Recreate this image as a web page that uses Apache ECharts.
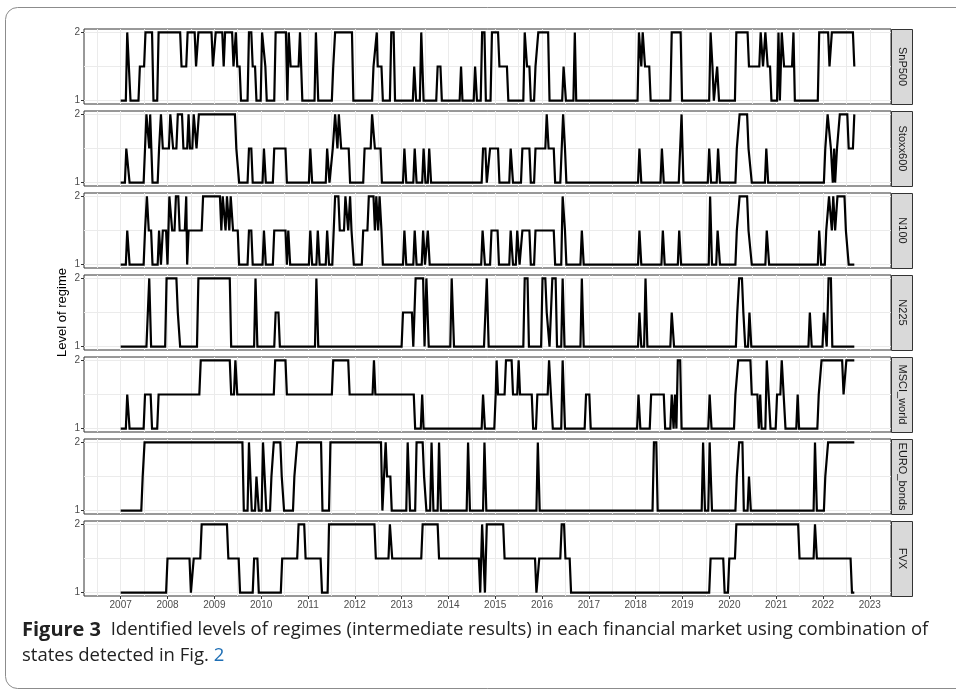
<!DOCTYPE html>
<html>
<head>
<meta charset="utf-8">
<script src="https://cdn.jsdelivr.net/npm/echarts@6/dist/echarts.min.js"></script>
<style>
  html, body { margin: 0; padding: 0; background: #ffffff; }
  #chart { width: 956px; height: 699px; }
</style>
</head>
<body>
<div id="chart"></div>
<script>
// Regime level of each market over time, as change points [year, level].
// The level holds from one change point until the next; the last entry closes the series.
const panelNames = ['SnP500', 'Stoxx600', 'N100', 'N225', 'MSCI_world', 'EURO_bonds', 'FVX'];
const yearTicks = [2007, 2008, 2009, 2010, 2011, 2012, 2013, 2014, 2015, 2016, 2017, 2018, 2019, 2020, 2021, 2022, 2023];
const levelTicks = [1, 2];

const snp500 = [
  [2007.00, 1], [2007.14, 2], [2007.21, 1], [2007.41, 1.5], [2007.53, 2], [2007.70, 1], [2007.81, 2],
  [2008.30, 1.5], [2008.43, 2], [2008.61, 1.5], [2008.66, 2], [2008.97, 1.5], [2009.03, 2], [2009.20, 1.5],
  [2009.23, 2], [2009.41, 1.5], [2009.46, 2], [2009.49, 1.5], [2009.57, 1], [2009.74, 2], [2009.82, 1.5],
  [2009.90, 1], [2010.02, 2], [2010.09, 1.5], [2010.12, 1], [2010.31, 2], [2010.56, 1], [2010.59, 2],
  [2010.63, 1.5], [2010.83, 2], [2010.88, 1], [2011.17, 2], [2011.22, 1], [2011.54, 1.5], [2011.58, 2],
  [2011.97, 1], [2012.40, 1.5], [2012.47, 2], [2012.49, 1.5], [2012.60, 1], [2012.78, 2], [2012.86, 1],
  [2013.27, 1.5], [2013.31, 1], [2013.42, 2], [2013.47, 1], [2013.77, 1.5], [2013.86, 1], [2014.27, 1.5],
  [2014.30, 1], [2014.57, 1.5], [2014.61, 1], [2014.72, 2], [2014.80, 1], [2014.93, 2], [2015.09, 1.5],
  [2015.28, 1], [2015.63, 2], [2015.68, 1.5], [2015.76, 1], [2015.86, 1.5], [2015.92, 2], [2016.16, 1],
  [2016.46, 1.5], [2016.51, 1], [2016.70, 2], [2016.73, 1], [2018.07, 2], [2018.12, 1.5], [2018.15, 2],
  [2018.20, 1.5], [2018.32, 1], [2018.77, 2], [2018.99, 1], [2019.60, 2], [2019.64, 1.5], [2019.67, 1],
  [2019.74, 1.5], [2019.78, 1], [2020.15, 2], [2020.42, 1.5], [2020.67, 2], [2020.72, 1.5], [2020.77, 2],
  [2020.82, 1.5], [2020.90, 1], [2021.05, 2], [2021.08, 1], [2021.12, 2], [2021.17, 1.5], [2021.37, 2],
  [2021.40, 1], [2021.92, 2], [2022.14, 1.5], [2022.19, 2], [2022.67, 1.5]
];

const stoxx600 = [
  [2007.00, 1], [2007.12, 1.5], [2007.19, 1], [2007.52, 1.5], [2007.55, 2], [2007.61, 1.5], [2007.63, 2],
  [2007.68, 1], [2007.82, 1.5], [2007.86, 2], [2007.90, 1.5], [2008.06, 2], [2008.12, 1.5], [2008.22, 2],
  [2008.34, 1.5], [2008.45, 2], [2008.48, 1.5], [2008.56, 2], [2008.62, 1.5], [2008.67, 2], [2009.47, 1.5],
  [2009.53, 1], [2009.74, 1.5], [2009.82, 1], [2010.06, 1.5], [2010.10, 1], [2010.28, 1.5], [2010.55, 1],
  [2011.05, 1.5], [2011.09, 1], [2011.41, 1.5], [2011.46, 1], [2011.53, 1.5], [2011.58, 2], [2011.63, 1.5],
  [2011.66, 2], [2011.71, 1.5], [2011.90, 1], [2012.21, 1.5], [2012.37, 2], [2012.43, 1.5], [2012.58, 1],
  [2013.06, 1.5], [2013.10, 1], [2013.28, 1.5], [2013.32, 1], [2013.47, 1.5], [2013.51, 1], [2013.59, 1.5],
  [2013.63, 1], [2014.74, 1.5], [2014.82, 1], [2014.89, 1.5], [2015.09, 1], [2015.33, 1.5], [2015.38, 1],
  [2015.58, 1.5], [2015.76, 1], [2015.86, 1.5], [2016.10, 2], [2016.14, 1.5], [2016.28, 1], [2016.42, 1.5],
  [2016.45, 2], [2016.49, 1.5], [2016.52, 1], [2018.08, 1.5], [2018.12, 1], [2018.56, 1.5], [2018.60, 1],
  [2018.95, 1.5], [2018.98, 2], [2019.02, 1], [2019.57, 1.5], [2019.61, 1], [2019.76, 1.5], [2019.80, 1],
  [2020.16, 1.5], [2020.22, 2], [2020.41, 1.5], [2020.48, 1], [2020.79, 1.5], [2020.83, 1], [2022.05, 1.5],
  [2022.10, 2], [2022.17, 1.5], [2022.21, 1], [2022.24, 1.5], [2022.26, 1], [2022.30, 1.5], [2022.36, 2],
  [2022.55, 1.5], [2022.67, 2]
];

const n100 = [
  [2007.00, 1], [2007.14, 1.5], [2007.19, 1], [2007.52, 1.5], [2007.56, 2], [2007.60, 1.5], [2007.68, 1],
  [2007.82, 1.5], [2007.86, 1], [2007.90, 1.5], [2008.00, 1], [2008.04, 2], [2008.10, 1.5], [2008.18, 2],
  [2008.26, 1.5], [2008.40, 2], [2008.42, 1], [2008.45, 1.5], [2008.76, 2], [2009.15, 1.5], [2009.18, 2],
  [2009.24, 1.5], [2009.27, 2], [2009.32, 1.5], [2009.35, 2], [2009.40, 1.5], [2009.53, 1], [2009.74, 1.5],
  [2009.82, 1], [2010.06, 1.5], [2010.10, 1], [2010.28, 1.5], [2010.55, 1], [2010.58, 1.5], [2010.62, 1],
  [2011.05, 1.5], [2011.09, 1], [2011.21, 1.5], [2011.25, 1], [2011.41, 1.5], [2011.45, 1], [2011.55, 1.5],
  [2011.58, 2], [2011.68, 1.5], [2011.80, 2], [2011.86, 1.5], [2011.90, 2], [2011.93, 1.5], [2011.98, 1],
  [2012.18, 1.5], [2012.30, 2], [2012.43, 1.5], [2012.46, 2], [2012.50, 1.5], [2012.53, 2], [2012.57, 1.5],
  [2012.60, 1], [2013.06, 1.5], [2013.10, 1], [2013.28, 1.5], [2013.32, 1], [2013.46, 1.5], [2013.50, 1],
  [2013.56, 1.5], [2013.60, 1], [2014.73, 1.5], [2014.78, 1], [2014.92, 1.5], [2015.08, 1], [2015.33, 1.5],
  [2015.38, 1], [2015.47, 1.5], [2015.52, 1], [2015.58, 1.5], [2015.76, 1], [2015.86, 1.5], [2016.28, 1],
  [2016.44, 2], [2016.49, 1.5], [2016.52, 1], [2016.85, 1.5], [2016.89, 1], [2018.08, 1.5], [2018.12, 1],
  [2018.58, 1.5], [2018.62, 1], [2018.93, 1.5], [2018.97, 1], [2019.59, 2], [2019.63, 1], [2019.75, 1.5],
  [2019.80, 1], [2020.16, 1.5], [2020.22, 2], [2020.41, 1.5], [2020.48, 1], [2020.80, 1.5], [2020.85, 1],
  [2021.92, 1.5], [2021.96, 1], [2022.07, 1.5], [2022.13, 2], [2022.19, 1.5], [2022.22, 2], [2022.26, 1.5],
  [2022.31, 2], [2022.49, 1.5], [2022.55, 1], [2022.67, 1]
];

const n225 = [
  [2007.00, 1], [2007.58, 1.5], [2007.61, 2], [2007.65, 1], [2007.98, 2], [2008.22, 1.5], [2008.27, 1],
  [2008.66, 2], [2009.36, 1], [2009.88, 2], [2009.92, 1], [2010.31, 1.5], [2010.40, 1], [2011.18, 2],
  [2011.22, 1], [2013.03, 1.5], [2013.25, 1], [2013.30, 2], [2013.49, 1], [2013.53, 2], [2013.58, 1],
  [2014.07, 2], [2014.12, 1], [2014.79, 1.5], [2014.82, 2], [2014.86, 1], [2015.63, 2], [2015.72, 1],
  [2016.01, 2], [2016.10, 1.5], [2016.16, 1], [2016.22, 2], [2016.32, 1], [2016.44, 2], [2016.48, 1],
  [2016.85, 2], [2016.89, 1], [2018.08, 1.5], [2018.12, 1], [2018.21, 2], [2018.25, 1], [2018.77, 1.5],
  [2018.82, 1], [2020.17, 1.5], [2020.21, 2], [2020.30, 1.5], [2020.34, 1], [2020.43, 1.5], [2020.47, 1],
  [2021.72, 1.5], [2021.76, 1], [2022.02, 1.5], [2022.08, 1], [2022.12, 2], [2022.20, 1], [2022.67, 1]
];

const msciWorld = [
  [2007.00, 1], [2007.14, 1.5], [2007.19, 1], [2007.52, 1.5], [2007.67, 1], [2007.81, 1.5], [2008.71, 2],
  [2009.36, 1.5], [2009.45, 2], [2009.49, 1.5], [2010.30, 2], [2010.55, 1.5], [2011.54, 2], [2011.89, 1.5],
  [2012.41, 2], [2012.44, 1.5], [2013.29, 1], [2013.44, 1.5], [2013.47, 1], [2014.74, 1.5], [2014.78, 1],
  [2015.01, 1.5], [2015.03, 2], [2015.06, 1.5], [2015.23, 2], [2015.38, 1.5], [2015.50, 2], [2015.53, 1.5],
  [2015.81, 1], [2015.90, 1.5], [2016.15, 2], [2016.19, 1.5], [2016.23, 1], [2016.44, 2], [2016.49, 1],
  [2016.94, 1.5], [2017.04, 1], [2018.06, 1.5], [2018.10, 1], [2018.33, 1.5], [2018.63, 1], [2018.77, 1.5],
  [2018.81, 1], [2018.84, 1.5], [2018.87, 1], [2018.90, 2], [2018.98, 1], [2019.58, 1.5], [2019.62, 1],
  [2020.13, 1.5], [2020.19, 2], [2020.48, 1.5], [2020.63, 1], [2020.66, 1.5], [2020.69, 1], [2020.80, 2],
  [2020.84, 1.5], [2020.88, 1], [2021.02, 1.5], [2021.12, 2], [2021.16, 1.5], [2021.20, 1], [2021.46, 1.5],
  [2021.49, 1], [2021.91, 1.5], [2021.97, 2], [2022.44, 1.5], [2022.50, 2], [2022.67, 2]
];

const euroBonds = [
  [2007.00, 1], [2007.47, 1.5], [2007.51, 2], [2009.63, 1], [2009.74, 2], [2009.80, 1], [2009.90, 1.5],
  [2009.95, 1], [2010.04, 2], [2010.11, 1], [2010.22, 1.5], [2010.27, 2], [2010.44, 1.5], [2010.49, 1],
  [2010.71, 1.5], [2010.77, 2], [2011.31, 1], [2011.48, 2], [2012.59, 1], [2012.66, 2], [2012.69, 1.5],
  [2012.79, 1], [2013.13, 2], [2013.18, 1], [2013.32, 2], [2013.48, 1.5], [2013.53, 1], [2013.64, 2],
  [2013.68, 1], [2013.80, 2], [2013.84, 1], [2014.42, 2], [2014.46, 1], [2014.77, 2], [2014.81, 1],
  [2015.91, 2], [2015.95, 1], [2018.39, 2], [2018.47, 1], [2019.44, 2], [2019.48, 1], [2019.58, 2],
  [2019.63, 1], [2020.16, 1.5], [2020.21, 2], [2020.31, 1], [2020.42, 1.5], [2020.46, 1], [2021.83, 2],
  [2021.87, 1], [2022.05, 1.5], [2022.11, 2], [2022.67, 2]
];

const fvx = [
  [2007.00, 1], [2008.00, 1.5], [2008.50, 1], [2008.56, 1.5], [2008.73, 2], [2009.30, 1.5], [2009.55, 1],
  [2009.85, 1.5], [2009.95, 1], [2010.45, 1.5], [2010.80, 2], [2010.95, 1.5], [2011.30, 1], [2011.45, 2],
  [2012.45, 1.5], [2012.75, 2], [2012.80, 1.5], [2013.45, 2], [2013.80, 1.5], [2014.68, 1], [2014.72, 2],
  [2014.78, 1], [2014.82, 2], [2015.20, 1.5], [2015.88, 1], [2015.94, 1.5], [2016.42, 2], [2016.50, 1.5],
  [2016.62, 1], [2019.60, 1.5], [2019.90, 1], [2020.00, 1.5], [2020.15, 2], [2021.50, 1.5], [2021.83, 2],
  [2021.87, 1.5], [2022.62, 1], [2022.67, 1]
];

const panelSeries = [snp500, stoxx600, n100, n225, msciWorld, euroBonds, fvx];

// Each level holds until just before the next change, then the line ramps to the new level.
const RAMP = 0.03;
function toLinePoints(changes) {
  const pts = [];
  for (let i = 0; i < changes.length - 1; i++) {
    const t = changes[i][0], v = changes[i][1];
    const next = changes[i + 1][0];
    pts.push([t, v]);
    if (next - RAMP > t) pts.push([next - RAMP, v]);
  }
  pts.push(changes[changes.length - 1]);
  return pts;
}

// Layout of the stacked facets
const PANEL_LEFT = 84, PANEL_RIGHT = 891, PANEL_TOP = 29, PANEL_H = 75, PANEL_GAP = 7;
const STRIP_W = 21;
const FONT = '"Liberation Sans", Arial, sans-serif';

// x range padded 5% on both sides of the data span
const xStart = Math.min(...panelSeries.map(s => s[0][0]));
const xEnd = Math.max(...panelSeries.map(s => s[s.length - 1][0]));
const xPad = (xEnd - xStart) * 0.05;
const xMin = xStart - xPad, xMax = xEnd + xPad;

const xGridValues = [];
for (let y = Math.floor(xMin * 2) / 2; y <= xMax; y += 0.5) if (y > xMin) xGridValues.push(y);

const grids = [], xAxes = [], yAxes = [], series = [], graphics = [];
panelNames.forEach((name, i) => {
  const top = PANEL_TOP + i * (PANEL_H + PANEL_GAP);
  const last = i === panelNames.length - 1;
  grids.push({
    left: PANEL_LEFT, top: top, width: PANEL_RIGHT - PANEL_LEFT, height: PANEL_H,
    show: true, borderColor: '#333333', borderWidth: 1, backgroundColor: '#ffffff'
  });
  // labelled axis
  xAxes.push({
    gridIndex: i, type: 'value', min: xMin, max: xMax, position: 'bottom',
    axisLine: { show: false },
    axisTick: { show: last, length: 3, lineStyle: { color: '#333333', width: 1 }, customValues: yearTicks },
    axisLabel: {
      show: last, customValues: yearTicks, color: '#4d4d4d', fontSize: 10, fontFamily: FONT, margin: 4,
      formatter: v => String(Math.round(v))
    },
    splitLine: { show: false }
  });
  // grid lines every half year
  xAxes.push({
    gridIndex: i, type: 'value', min: xMin, max: xMax, position: 'top',
    axisLine: { show: false }, axisLabel: { show: false },
    axisTick: { show: false, customValues: xGridValues },
    splitLine: { show: true, lineStyle: { color: '#ebebeb', width: 1 } }
  });
  yAxes.push({
    gridIndex: i, type: 'value', min: 0.95, max: 2.05, position: 'left',
    axisLine: { show: false },
    axisTick: { show: true, length: 3, lineStyle: { color: '#333333', width: 1 }, customValues: levelTicks },
    axisLabel: { customValues: levelTicks, color: '#4d4d4d', fontSize: 10, fontFamily: FONT, margin: 4 },
    splitLine: { show: false }
  });
  yAxes.push({
    gridIndex: i, type: 'value', min: 0.95, max: 2.05, position: 'right',
    axisLine: { show: false }, axisLabel: { show: false },
    axisTick: { show: false, customValues: [1, 1.5, 2] },
    splitLine: { show: true, lineStyle: { color: '#ebebeb', width: 1 } }
  });
  series.push({
    type: 'line', name: name, xAxisIndex: i * 2, yAxisIndex: i * 2,
    data: toLinePoints(panelSeries[i]), showSymbol: false, symbol: 'none',
    lineStyle: { color: '#000000', width: 2.2, join: 'miter' }, silent: true, z: 5
  });
  // facet strip on the right
  graphics.push({
    type: 'rect', shape: { x: PANEL_RIGHT + 0.5, y: top + 0.5, width: STRIP_W, height: PANEL_H },
    style: { fill: '#d9d9d9', stroke: '#333333', lineWidth: 1 }
  });
  graphics.push({
    type: 'text', x: PANEL_RIGHT + 0.5 + STRIP_W / 2, y: top + PANEL_H / 2, rotation: -Math.PI / 2,
    style: { text: name, fill: '#1a1a1a', font: '11px ' + FONT, align: 'center', verticalAlign: 'middle' }
  });
});

// axis title
graphics.push({
  type: 'text', x: 62, y: PANEL_TOP + (7 * PANEL_H + 6 * PANEL_GAP) / 2, rotation: Math.PI / 2,
  style: { text: 'Level of regime', fill: '#000000', font: '13px ' + FONT, align: 'center', verticalAlign: 'middle' }
});

// figure frame
graphics.push({
  type: 'rect', shape: { x: 5.5, y: 7.5, width: 1000, height: 681, r: 12 },
  style: { fill: null, stroke: '#8c8c8c', lineWidth: 1 }, z: -10
});

// caption
const CAP_FONT = '"Open Sans", "Noto Sans", sans-serif';
graphics.push({
  type: 'text', x: 22, y: 630,
  style: {
    text: '{b|Figure 3}  Identified levels of regimes (intermediate results) in each financial market using combination of',
    font: '18.5px ' + CAP_FONT, fill: '#222222', verticalAlign: 'middle',
    rich: { b: { fontWeight: 'bold', fontSize: 20, fontFamily: CAP_FONT, fill: '#222222' } }
  }
});
graphics.push({
  type: 'text', x: 22, y: 656,
  style: {
    text: 'states detected in Fig. {l|2}',
    font: '18.5px ' + CAP_FONT, fill: '#222222', verticalAlign: 'middle',
    rich: { l: { fontSize: 18.5, fontFamily: CAP_FONT, fill: '#1f6fb5' } }
  }
});

const chart = echarts.init(document.getElementById('chart'), null, { renderer: 'canvas' });
chart.setOption({
  animation: false,
  backgroundColor: '#ffffff',
  grid: grids,
  xAxis: xAxes,
  yAxis: yAxes,
  series: series,
  graphic: graphics
});
</script>
</body>
</html>
